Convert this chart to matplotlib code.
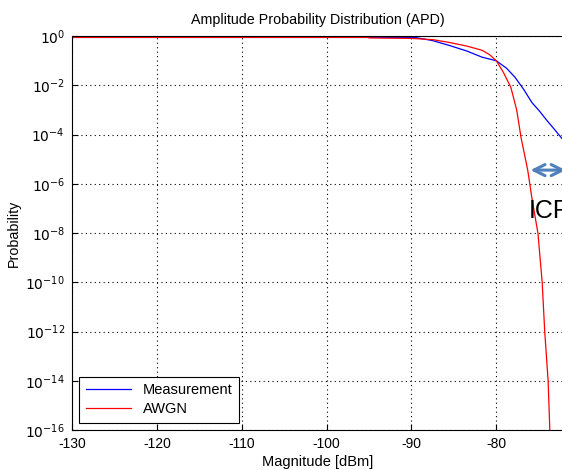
import numpy as np
import matplotlib
matplotlib.use("Agg")
import matplotlib.pyplot as plt

plt.rcParams['font.family'] = ['Liberation Sans', 'DejaVu Sans']

meas_x = [-130, -95, -89.6, -87.5, -85.6, -83.5, -81.7, -80.0, -78.8, -77.8, -76.8, -75.8, -74.9, -74.1, -73.0, -71.8]
meas_logp = [-0.05, -0.05, -0.05, -0.18, -0.37, -0.6, -0.85, -1.0, -1.3, -1.67, -2.15, -2.7, -3.05, -3.4, -3.85, -4.35]

# AWGN APD
awgn_x = [-130, -95.1, -95.0, -90, -87.5, -85.6, -83.5, -81.7, -80.8, -80.0, -79.2, -78.3, -77.6, -77.1, -76.3, -75.8, -75.1, -74.6, -74.3, -73.9, -73.7]
awgn_logp = [-0.05, -0.05, -0.07, -0.09, -0.14, -0.25, -0.4, -0.57, -0.75, -1.0, -1.45, -2.07, -3.0, -4.1, -5.45, -6.6, -8.0, -10.0, -12.0, -14.0, -16.0]

x_ticks = [-130, -120, -110, -100, -90, -80]
y_exps = list(range(0, -17, -2))

fig = plt.figure(figsize=(5.62, 4.70), dpi=100)
ax = fig.add_axes([0.128, 0.085, 0.876, 0.838])

ax.plot(meas_x, 10.0 ** np.array(meas_logp), color='#0000ff', lw=0.9, label='Measurement')
ax.plot(awgn_x, 10.0 ** np.array(awgn_logp), color='#ff0000', lw=0.9, label='AWGN')

ax.set_yscale('log')
ax.set_xlim(-130, -72)
ax.set_ylim(1e-16, 1)
ax.set_xticks(x_ticks)
ax.set_xticklabels([str(v) for v in x_ticks])
ax.set_yticks([10.0 ** e for e in y_exps])
ax.set_yticklabels([r'$10^{%d}$' % e for e in y_exps])
ax.yaxis.set_minor_locator(matplotlib.ticker.NullLocator())
ax.tick_params(direction='in', length=4, labelsize=10, width=0.8)
ax.tick_params(axis='y', pad=5)
ax.tick_params(axis='x', pad=5)
ax.grid(True, color='black', linestyle=(0, (1, 3)), linewidth=0.8)
for s in ax.spines.values():
    s.set_linewidth(0.8)

ax.set_title('Amplitude Probability Distribution (APD)', fontsize=10.3, pad=9)
ax.set_xlabel('Magnitude [dBm]', fontsize=10.5, labelpad=3)
ax.set_ylabel('Probability', fontsize=10.3, labelpad=3)

leg = ax.legend(loc='lower left', fontsize=10.5, fancybox=False, framealpha=1,
                edgecolor='black', borderaxespad=0.5, handlelength=3.1,
                borderpad=0.45, labelspacing=0.35)
leg.get_frame().set_linewidth(0.8)

# ICF annotation
ax.annotate('', xy=(-76.3, 10 ** -5.44), xytext=(-71.5, 10 ** -5.44),
            arrowprops=dict(arrowstyle='<->', color='#4f81bd', lw=2.2,
                            mutation_scale=20), annotation_clip=False)
ax.text(-76.2, 10 ** -7.1, 'ICF', fontsize=18, va='center', ha='left', clip_on=False)

plt.savefig('out.png', dpi=100)
